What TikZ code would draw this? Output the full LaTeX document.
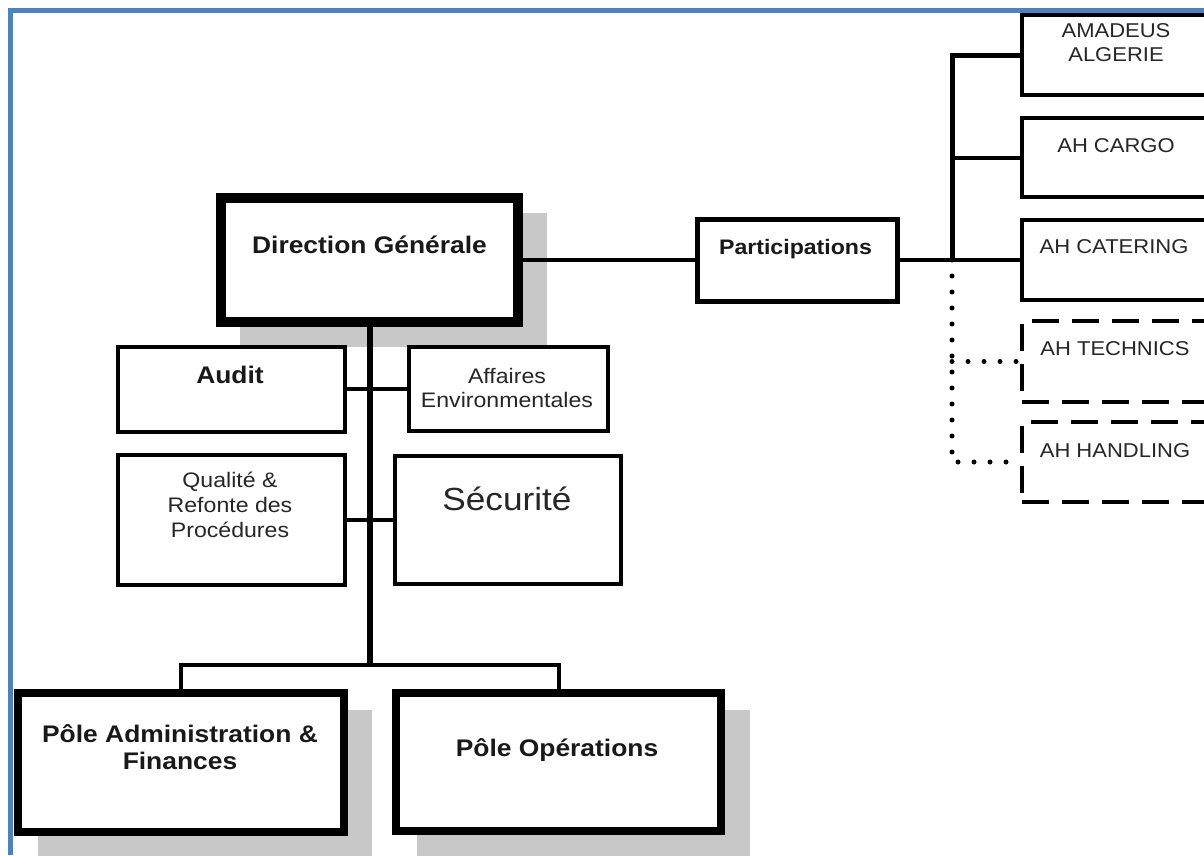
\documentclass[tikz,border=0pt]{standalone}
\usepackage{fontspec}
\setmainfont[FakeStretch=1.1]{Liberation Sans}
\usetikzlibrary{backgrounds}
\definecolor{frameblue}{HTML}{4F81BD}
\definecolor{shadowgray}{HTML}{C8C8C8}
\tikzset{
  box/.style={draw=black, rectangle, inner sep=0pt, line width=4pt, fill=white},
  bigbox/.style={box, line width=10pt},
  polebox/.style={box, line width=8pt},
  partbox/.style={box, line width=5pt},
  dashbox/.style={draw=black, rectangle, inner sep=0pt, line width=4pt, dash pattern=on 27pt off 13pt, fill=white},
  conn/.style={line width=4pt},
  busline/.style={line width=5pt},
  trunk/.style={line width=6pt},
  dotline/.style={line width=5pt, line cap=round, dash pattern=on 0pt off 16pt},
  bt/.style={anchor=base, inner sep=0pt, text=black!90, font=\bfseries\fontsize{24}{28}\selectfont},
  rt/.style={anchor=base, inner sep=0pt, text=black!85, font=\fontsize{21}{24}\selectfont},
  st/.style={anchor=base, inner sep=0pt, text=black!85, font=\fontsize{20}{24}\selectfont},
  shadowbox/.style={fill=shadowgray}
}
\begin{document}
\begin{tikzpicture}[x=1pt, y=-1pt]
\useasboundingbox (0,0) rectangle (1204,855);
\clip (0,0) rectangle (1204,855);

% boxes
\node[bigbox, minimum width=297pt, minimum height=124pt] (dg) at (369.5,260) {};
\node[partbox, minimum width=200pt, minimum height=82pt] (part) at (797.5,260) {};
\node[box, minimum width=227pt, minimum height=85pt] (audit) at (231.5,389) {};
\node[box, minimum width=199pt, minimum height=84pt] (aff) at (508.5,389) {};
\node[box, minimum width=227pt, minimum height=130pt] (qual) at (231.5,520) {};
\node[box, minimum width=226pt, minimum height=128pt] (secu) at (508,520) {};
\node[polebox, minimum width=326pt, minimum height=139pt] (padm) at (181,762.5) {};
\node[polebox, minimum width=325pt, minimum height=138pt] (pops) at (558.5,762) {};
\node[box, minimum width=218pt, minimum height=80pt] (ama) at (1131,55) {};
\node[box, minimum width=218pt, minimum height=79pt] (cargo) at (1131,157.5) {};
\node[box, minimum width=218pt, minimum height=80pt] (cat) at (1131,260) {};
\node[dashbox, minimum width=218pt, minimum height=81pt] (tech) at (1131,361.5) {};
\node[dashbox, minimum width=218pt, minimum height=80pt] (hand) at (1131,462) {};

% background and shadows
\begin{pgfonlayer}{background}
\fill[white] (0,0) rectangle (1204,855);
\fill[shadowbox] ([shift={(24,20)}]dg.north west) rectangle ([shift={(24,20)}]dg.south east);
\fill[shadowbox] ([shift={(24,21)}]padm.north west) rectangle ([shift={(24,21)}]padm.south east);
\fill[shadowbox] ([shift={(25,21)}]pops.north west) rectangle ([shift={(25,21)}]pops.south east);
\end{pgfonlayer}

% connectors
\coordinate (busbot) at (952,260);
\coordinate (j) at (369.5,665);
\draw[conn] (dg.east) -- (part.west);
\draw[conn] (part.east) -- (cat.west);
\draw[busline] (ama.west) -| (busbot);
\draw[conn] (cargo.west) -- (cargo.west -| busbot);
\draw[dotline] (busbot) |- (hand.west);
\draw[dotline] (tech.west -| busbot) -- (tech.west);
\draw[trunk] (dg.south) -- (j);
\draw[conn] (padm.north) |- (j) -| (pops.north);
\draw[conn] (audit.east) -- (aff.west);
\draw[conn] (qual.east) -- (secu.west);

% texts
\node[bt] (dg-t) at (369.5,253) {Direction Générale};
\node[bt, font=\bfseries\fontsize{21}{24}\selectfont] (part-t) at (795.5,254) {Participations};
\node[bt] (audit-t) at (230,383) {Audit};
\node[rt] (aff-t1) at (507,383) {Affaires};
\node[rt] (aff-t2) at (507,407) {Environmentales};
\node[rt] (qual-t1) at (230,487) {Qualité \&};
\node[rt] (qual-t2) at (230,512) {Refonte des};
\node[rt] (qual-t3) at (230,537) {Procédures};
\node[rt, font=\fontsize{32}{36}\selectfont] (secu-t) at (507,510) {Sécurité};
\node[bt] (padm-t1) at (180,742) {Pôle Administration \&};
\node[bt] (padm-t2) at (180,769) {Finances};
\node[bt] (pops-t) at (557,756) {Pôle Opérations};
\node[st] (ama-t1) at (1116,37) {AMADEUS};
\node[st] (ama-t2) at (1116,61) {ALGERIE};
\node[st] (cargo-t) at (1116,152) {AH CARGO};
\node[st] (cat-t) at (1114,253) {AH CATERING};
\node[st] (tech-t) at (1115,355) {AH TECHNICS};
\node[st] (hand-t) at (1115,457) {AH HANDLING};

% frame
\fill[frameblue] (8,8) rectangle (1204,13);
\fill[frameblue] (8,8) rectangle (13,855);
\end{tikzpicture}
\end{document}
